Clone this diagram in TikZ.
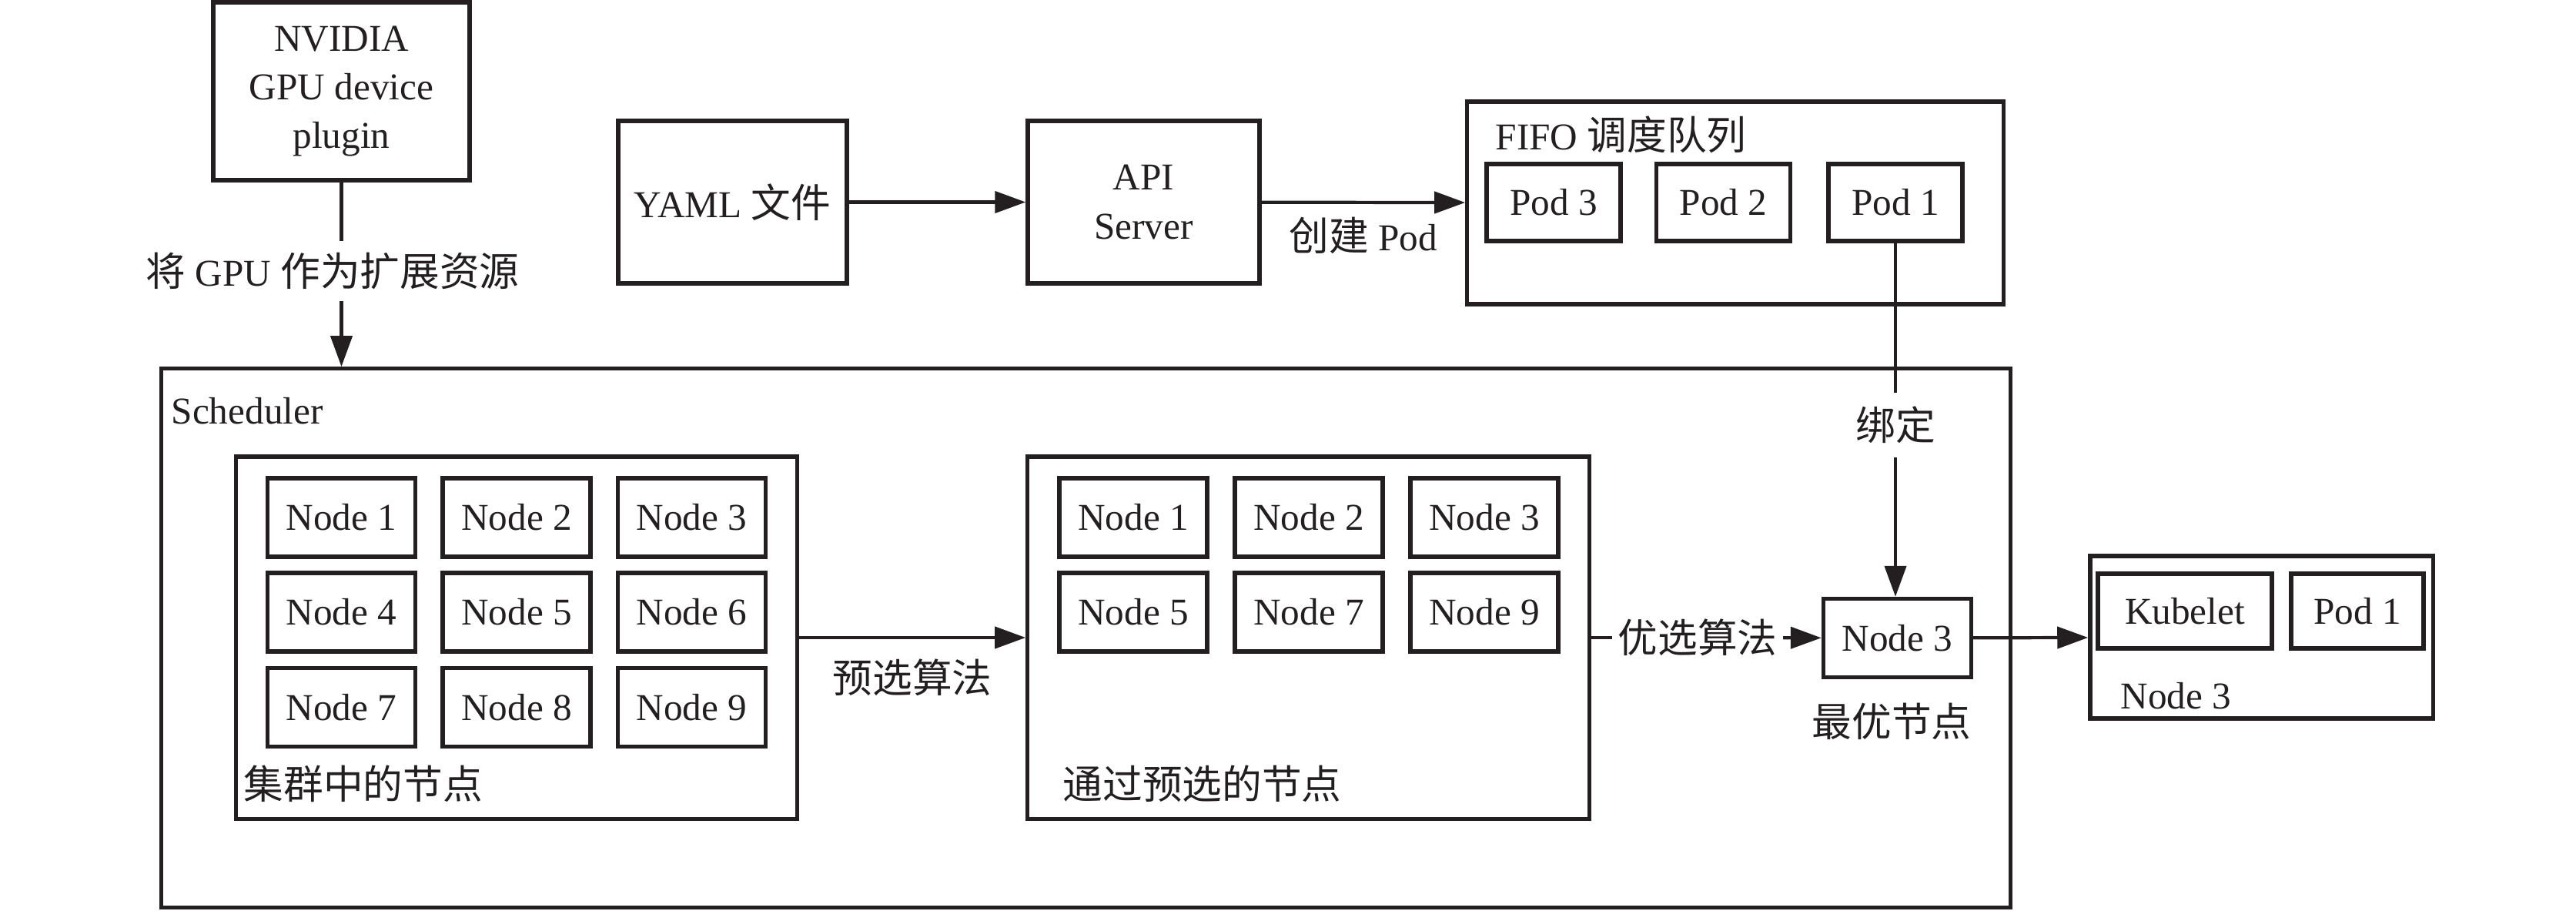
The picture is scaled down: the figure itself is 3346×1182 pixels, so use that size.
\documentclass[tikz,border=0pt]{standalone}
\usepackage{fontspec}
\setmainfont{Liberation Serif}
\newfontfamily\cjk[Scale=1.05]{Noto Sans CJK SC}
\usetikzlibrary{arrows.meta}
\definecolor{ink}{RGB}{35,31,32}

\begin{document}
\begin{tikzpicture}[
    x=0.01cm, y=-0.01cm, color=ink,
    font=\fontsize{14pt}{18pt}\selectfont,
    box/.style={draw, line width=1.5pt, rectangle, inner sep=0pt, align=center},
    cell/.style={box, minimum width=1.92cm, minimum height=1.02cm},
    pod/.style={box, minimum width=1.74cm, minimum height=1.00cm},
    group/.style={draw, line width=1.5pt, rectangle, inner sep=0pt},
    title/.style={anchor=west, inner sep=0pt},
    lbl/.style={inner sep=0.15cm},
    wire/.style={line width=1.2pt},
    arr/.style={line width=1.2pt, -{Triangle[length=0.4cm,width=0.28cm]}}
]
\useasboundingbox (0,0) rectangle (3346,1182);

% top row
\node[box, minimum width=3.33cm, minimum height=2.31cm] (plugin) at (443.5,118.5) {NVIDIA\\GPU device\\plugin};
\node[box, minimum width=2.97cm, minimum height=2.11cm] (yaml) at (951.5,262.5) {YAML {\cjk 文件}};
\node[box, minimum width=3.01cm, minimum height=2.11cm] (api) at (1485.5,262.5) {API\\Server};

\node[group, minimum width=6.96cm, minimum height=2.63cm] (fifo) at (2254,263.5) {};
\node[title] (fifotitle) at (1942,175) {FIFO {\cjk 调度队列}};
\node[pod] (q3) at (2018,263) {Pod 3};
\node[pod] (q2) at (2238.5,263) {Pod 2};
\node[pod] (q1) at (2462,263) {Pod 1};

% scheduler
\node[group, minimum width=24.01cm, minimum height=6.99cm] (sched) at (1410.5,828.5) {};
\node[title] (schedtitle) at (222,534) {Scheduler};

\node[group, minimum width=7.28cm, minimum height=4.70cm] (cluster) at (671,828) {};
\node[cell] (n1) at (443.5,672) {Node 1};
\node[cell] (n2) at (671,672) {Node 2};
\node[cell] (n3) at (898.5,672) {Node 3};
\node[cell] (n4) at (443.5,795) {Node 4};
\node[cell] (n5) at (671,795) {Node 5};
\node[cell] (n6) at (898.5,795) {Node 6};
\node[cell] (n7) at (443.5,918.5) {Node 7};
\node[cell] (n8) at (671,918.5) {Node 8};
\node[cell] (n9) at (898.5,918.5) {Node 9};
\node[title] (clustertitle) at (316,1018) {\cjk 集群中的节点};

\node[group, minimum width=7.29cm, minimum height=4.70cm] (passed) at (1699.5,828) {};
\node[cell] (p1) at (1472,672) {Node 1};
\node[cell] (p2) at (1700,672) {Node 2};
\node[cell] (p3) at (1928,672) {Node 3};
\node[cell] (p5) at (1472,795) {Node 5};
\node[cell] (p7) at (1700,795) {Node 7};
\node[cell] (p9) at (1928,795) {Node 9};
\node[title] (passedtitle) at (1380,1018) {\cjk 通过预选的节点};

\node[cell] (best) at (2464.5,828.5) {Node 3};
\node[lbl] (bestlbl) at (2457,937) {\cjk 最优节点};

% target node
\node[group, minimum width=4.45cm, minimum height=2.11cm] (host) at (2937.5,827.5) {};
\node[box, minimum width=2.26cm, minimum height=0.97cm] (kubelet) at (2838,793.5) {Kubelet};
\node[box, minimum width=1.72cm, minimum height=0.97cm] (hostpod) at (3062,793.5) {Pod 1};
\node[title] (hosttitle) at (2754,904) {Node 3};

% labels on broken lines
\node[lbl, inner ysep=0.14cm] (gpulbl) at (432,352) {{\cjk 将} GPU {\cjk 作为扩展资源}};
\node[lbl, inner ysep=0.17cm] (bindlbl) at (2462,552) {\cjk 绑定};
\node[lbl, inner xsep=2pt] (optlbl) at (2205,828) {\cjk 优选算法};

% connectors
\draw[wire] (plugin.south) -- (plugin.south |- gpulbl.north);
\draw[arr] (plugin.south |- gpulbl.south) -- (plugin.south |- sched.north);
\draw[arr] (yaml) -- (api);
\draw[arr] (api) -- node[below, inner sep=0.17cm] (createlbl) {{\cjk 创建} Pod} (fifo);
\draw[wire] (q1.south) -- (q1.south |- bindlbl.north);
\draw[arr] (q1.south |- bindlbl.south) -- (q1.south |- best.north);
\draw[arr] (cluster) -- node[below, inner sep=0.26cm] (prelbl) {\cjk 预选算法} (passed);
\draw[wire] (passed.east) -- (optlbl.west);
\draw[arr] (optlbl) -- (best);
\draw[arr] (best) -- (host);
\end{tikzpicture}
\end{document}
